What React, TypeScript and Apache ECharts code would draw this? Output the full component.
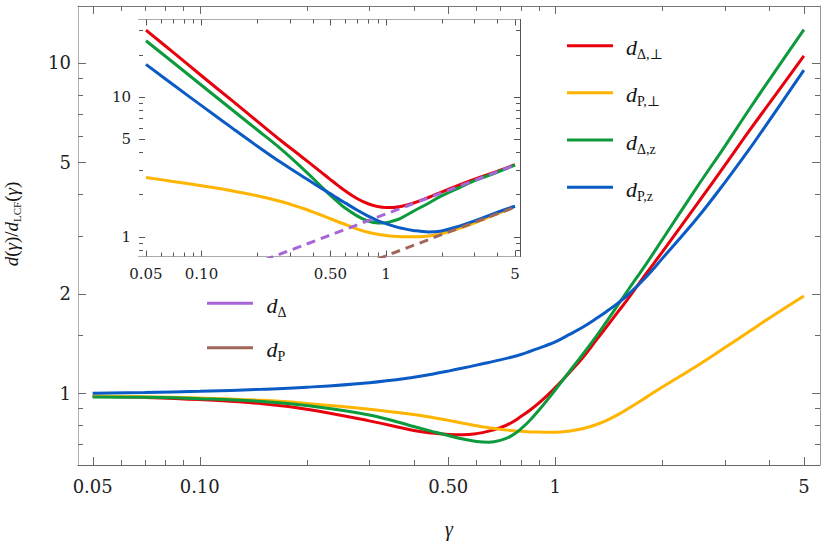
import React, { useEffect, useRef } from "react";
import * as echarts from "echarts";

// ---------- main plot data ----------
const xMain = [0.05, 0.07, 0.1, 0.15, 0.2, 0.3, 0.4, 0.45, 0.5, 0.55, 0.6, 0.65, 0.7, 0.75, 0.8, 0.85, 0.9, 0.95, 1.0, 1.1, 1.2, 1.3, 1.4, 1.5, 1.6, 1.8, 2.0, 2.5, 3.0, 3.5, 4.0, 5.0];
const dDeltaPerpMain = [0.98, 0.972, 0.957, 0.93, 0.895, 0.825, 0.772, 0.758, 0.751, 0.749, 0.755, 0.768, 0.787, 0.813, 0.85, 0.89, 0.935, 0.985, 1.04, 1.16, 1.29, 1.443, 1.6, 1.763, 1.93, 2.3, 2.68, 3.73, 4.9, 6.2, 7.55, 10.5];
const dPPerpMain = [0.98, 0.976, 0.967, 0.952, 0.932, 0.895, 0.862, 0.845, 0.828, 0.812, 0.798, 0.787, 0.778, 0.772, 0.767, 0.764, 0.763, 0.762, 0.762, 0.769, 0.782, 0.803, 0.83, 0.862, 0.898, 0.972, 1.045, 1.21, 1.375, 1.535, 1.69, 1.97];
const dDeltaZMain = [0.975, 0.972, 0.963, 0.945, 0.918, 0.86, 0.793, 0.767, 0.745, 0.727, 0.715, 0.711, 0.72, 0.742, 0.78, 0.83, 0.89, 0.955, 1.025, 1.17, 1.32, 1.482, 1.66, 1.851, 2.05, 2.46, 2.92, 4.2, 5.6, 7.2, 8.9, 12.6];
const dPZMain = [1.0, 1.005, 1.014, 1.028, 1.043, 1.077, 1.118, 1.142, 1.167, 1.192, 1.217, 1.24, 1.262, 1.285, 1.31, 1.34, 1.37, 1.4, 1.43, 1.51, 1.59, 1.68, 1.775, 1.875, 1.985, 2.25, 2.56, 3.38, 4.35, 5.45, 6.7, 9.5];

// ---------- inset data ----------
const xInset = [0.05, 0.07, 0.1, 0.15, 0.2, 0.27, 0.35, 0.4, 0.45, 0.5, 0.55, 0.6, 0.7, 0.8, 0.9, 1.0, 1.1, 1.2, 1.4, 1.7, 2.0, 2.5, 3.0, 4.0, 5.0];
const dDeltaPerpInset = [29.9, 20.8, 14.1, 9.13, 6.69, 4.84, 3.705, 3.225, 2.85, 2.551, 2.313, 2.124, 1.863, 1.715, 1.64, 1.612, 1.615, 1.64, 1.73, 1.9, 2.08, 2.34, 2.56, 2.92, 3.26];
const dPPerpInset = [2.64, 2.477, 2.306, 2.109, 1.957, 1.778, 1.598, 1.501, 1.415, 1.34, 1.275, 1.221, 1.13, 1.072, 1.038, 1.018, 1.005, 0.998, 0.995, 1.01, 1.046, 1.144, 1.249, 1.45, 1.64];
const dDeltaZInset = [25.1, 17.6, 12.07, 7.86, 5.8, 4.22, 3.1, 2.62, 2.25, 1.97, 1.76, 1.6, 1.4, 1.29, 1.25, 1.255, 1.295, 1.35, 1.51, 1.73, 1.95, 2.24, 2.5, 2.88, 3.24];
const dPZInset = [17.0, 12.2, 8.62, 5.83, 4.44, 3.375, 2.71, 2.42, 2.2, 2.02, 1.866, 1.74, 1.54, 1.4, 1.3, 1.235, 1.187, 1.151, 1.106, 1.078, 1.096, 1.187, 1.289, 1.488, 1.645];
const dDeltaX = [0.22, 1, 5];
const dDeltaY = [0.68, 1.45, 3.24];
const dPX = [0.9, 2, 5];
const dPY = [0.69, 1.03, 1.62];

// ---------- ticks ----------
const mainXMajor = [0.05, 0.1, 0.5, 1, 5];
const mainXLabels = ["0.05", "0.10", "0.50", "1", "5"];
const mainXMinor = [0.06, 0.07, 0.08, 0.09, 0.2, 0.3, 0.4, 0.6, 0.7, 0.8, 0.9, 2, 3, 4];
const mainYMajor = [1, 2, 5, 10];
const mainYLabels = ["1", "2", "5", "10"];
const mainYMinor = [0.7, 0.8, 0.9, 1.5, 3, 4, 6, 7, 8, 9];
const insetXMajor = [0.05, 0.1, 0.5, 1, 5];
const insetXLabels = ["0.05", "0.10", "0.50", "1", "5"];
const insetXMinor = [0.06, 0.07, 0.08, 0.09, 0.2, 0.3, 0.4, 0.6, 0.7, 0.8, 0.9, 2, 3, 4];
const insetYMajor = [1, 5, 10];
const insetYLabels = ["1", "5", "10"];
const insetYMinor = [0.8, 0.9, 2, 3, 4, 6, 7, 8, 9, 20, 30];

// ---------- names / legend ----------
const seriesNames = ["d_Δ,⊥", "d_P,⊥", "d_Δ,z", "d_P,z"];
const legendSubs = ["Δ,⊥", "P,⊥", "Δ,z", "P,z"];
const refNames = ["d_Δ", "d_P"];
const refSubs = ["Δ", "P"];
const curveColors = ["#e8000c", "#ffb400", "#0c9a3c", "#0a5bc4"];
const refColors = ["#a865d8", "#a0665a"];

const AX_FONT = "'DejaVu Serif', serif";
const MATH_FONT = "'Liberation Serif', 'DejaVu Serif', serif";

// axis ranges
const MAIN_X = [0.04547, 5.55];
const MAIN_Y = [0.6067, 14.86];
const INSET_X = [0.04584, 5.325];
const INSET_Y = [0.7196, 35.6];

function makeAxes(
  dim: "x" | "y",
  gridIndex: number,
  range: number[],
  major: number[],
  labels: string[],
  o: { line1: string; line2: string; fs: number; margin: number }
) {
  const p1 = dim === "x" ? "bottom" : "left";
  const p2 = dim === "x" ? "top" : "right";
  const fmt = (v: number) => {
    const i = major.findIndex((m) => Math.abs(m - v) <= m * 1e-6);
    return i >= 0 ? labels[i] : "";
  };
  const base: any = {
    type: "log",
    logBase: 10,
    gridIndex,
    min: range[0],
    max: range[1],
    splitLine: { show: false },
    minorTick: { show: false },
    minorSplitLine: { show: false },
    axisTick: { show: false },
    silent: true,
  };
  return [
    {
      ...base,
      position: p1,
      axisLine: { show: true, onZero: false, lineStyle: { color: o.line1, width: 1 } },
      axisLabel: {
        show: true,
        customValues: major,
        formatter: fmt,
        fontFamily: AX_FONT,
        fontSize: o.fs,
        color: "#222",
        margin: o.margin,
      },
    },
    { ...base, position: p2, axisLine: { show: true, onZero: false, lineStyle: { color: o.line2, width: 1 } }, axisLabel: { show: false } },
  ];
}

// Frame ticks (inward, on all four sides) placed through the axes' scales
function tickSeries(
  axisIndex: number,
  xr: number[],
  yr: number[],
  xMajor: number[],
  xMinor: number[],
  yMajor: number[],
  yMinor: number[],
  lenMajor: number,
  lenMinor: number,
  color: string
) {
  const data = [
    ...xMajor.map((v) => [v, yr[0], 0]),
    ...xMinor.map((v) => [v, yr[0], 1]),
    ...yMajor.map((v) => [xr[0], v, 2]),
    ...yMinor.map((v) => [xr[0], v, 3]),
  ];
  return {
    type: "custom",
    xAxisIndex: axisIndex,
    yAxisIndex: axisIndex,
    silent: true,
    clip: false,
    z: 8,
    encode: { x: 0, y: 1 },
    data,
    renderItem: (_params: any, api: any) => {
      const kind = api.value(2);
      const style = { stroke: color, lineWidth: 1, fill: "none" };
      const len = kind === 0 || kind === 2 ? lenMajor : lenMinor;
      if (kind < 2) {
        const v = api.value(0);
        const b = api.coord([v, yr[0]]);
        const t = api.coord([v, yr[1]]);
        const x = Math.round(b[0]) + 0.5;
        return {
          type: "group",
          children: [
            { type: "line", shape: { x1: x, y1: b[1], x2: x, y2: b[1] - len }, style },
            { type: "line", shape: { x1: x, y1: t[1], x2: x, y2: t[1] + len }, style },
          ],
        };
      }
      const v = api.value(1);
      const l = api.coord([xr[0], v]);
      const r = api.coord([xr[1], v]);
      const y = Math.round(l[1]) + 0.5;
      return {
        type: "group",
        children: [
          { type: "line", shape: { x1: l[0], y1: y, x2: l[0] + len, y2: y }, style },
          { type: "line", shape: { x1: r[0], y1: y, x2: r[0] - len, y2: y }, style },
        ],
      };
    },
  };
}

function buildOption(): any {
  const mainCurves = [dDeltaPerpMain, dPPerpMain, dDeltaZMain, dPZMain];
  const insetCurves = [dDeltaPerpInset, dPPerpInset, dDeltaZInset, dPZInset];

  const series: any[] = [];
  mainCurves.forEach((ys, k) => {
    series.push({
      type: "line",
      name: seriesNames[k],
      xAxisIndex: 0,
      yAxisIndex: 0,
      data: xMain.map((x, i) => [x, ys[i]]),
      showSymbol: false,
      symbol: "none",
      smooth: 0.4,
      lineStyle: { color: curveColors[k], width: 3 },
      itemStyle: { color: curveColors[k] },
      z: 3,
      silent: true,
    });
  });
  insetCurves.forEach((ys, k) => {
    series.push({
      type: "line",
      name: seriesNames[k] + " (inset)",
      xAxisIndex: 2,
      yAxisIndex: 2,
      data: xInset.map((x, i) => [x, ys[i]]),
      showSymbol: false,
      symbol: "none",
      smooth: 0.4,
      lineStyle: { color: curveColors[k], width: 3 },
      itemStyle: { color: curveColors[k] },
      z: 5,
      silent: true,
    });
  });
  [
    [dDeltaX, dDeltaY],
    [dPX, dPY],
  ].forEach(([xs, ys], k) => {
    series.push({
      type: "line",
      name: refNames[k],
      xAxisIndex: 2,
      yAxisIndex: 2,
      data: xs.map((x, i) => [x, ys[i]]),
      showSymbol: false,
      symbol: "none",
      clip: true,
      lineStyle: { color: refColors[k], width: 3, type: [9, 6] },
      itemStyle: { color: refColors[k] },
      z: 6,
      silent: true,
    });
  });

  series.push(tickSeries(0, MAIN_X, MAIN_Y, mainXMajor, mainXMinor, mainYMajor, mainYMinor, 8, 5, "#6a6a6a"));
  series.push(tickSeries(2, INSET_X, INSET_Y, insetXMajor, insetXMinor, insetYMajor, insetYMinor, 6, 4, "#555"));

  const xAxis = [
    ...makeAxes("x", 0, MAIN_X, mainXMajor, mainXLabels, { line1: "#666", line2: "#777", fs: 18, margin: 12 }),
    ...makeAxes("x", 1, INSET_X, insetXMajor, insetXLabels, { line1: "#555", line2: "#555", fs: 15, margin: 10 }),
  ];
  const yAxis = [
    ...makeAxes("y", 0, MAIN_Y, mainYMajor, mainYLabels, { line1: "#b0b0b0", line2: "#999", fs: 18, margin: 7 }),
    ...makeAxes("y", 1, INSET_Y, insetYMajor, insetYLabels, { line1: "#555", line2: "#555", fs: 15, margin: 8 }),
  ];

  const textFill = "#151515";
  const legRich = {
    d: { fontFamily: MATH_FONT, fontStyle: "italic", fontSize: 22, lineHeight: 28, fill: textFill, verticalAlign: "middle" },
    s: { fontFamily: MATH_FONT, fontSize: 14, fill: textFill, verticalAlign: "bottom" },
  };

  const graphic: any[] = [];
  const legY = [45.7, 92.7, 140, 187.3];
  legendSubs.forEach((sub, k) => {
    graphic.push({
      type: "line",
      z: 20,
      shape: { x1: 567, y1: legY[k], x2: 613, y2: legY[k] },
      style: { stroke: curveColors[k], lineWidth: 3 },
    });
    graphic.push({
      type: "text",
      z: 20,
      x: 626,
      y: legY[k] + 2,
      style: { text: `{d|d}{s|${sub}}`, rich: legRich, align: "left", verticalAlign: "middle", fill: textFill },
    });
  });
  const refLegY = [303.3, 347.7];
  refSubs.forEach((sub, k) => {
    graphic.push({
      type: "line",
      z: 20,
      shape: { x1: 207, y1: refLegY[k], x2: 253, y2: refLegY[k] },
      style: { stroke: refColors[k], lineWidth: 3 },
    });
    graphic.push({
      type: "text",
      z: 20,
      x: 266.5,
      y: refLegY[k] + 2,
      style: { text: `{d|d}{s|${sub}}`, rich: legRich, align: "left", verticalAlign: "middle", fill: textFill },
    });
  });

  // axis titles
  graphic.push({
    type: "text",
    z: 20,
    x: 449,
    y: 529,
    style: { text: "γ", font: `italic 20px ${MATH_FONT}`, fill: textFill, align: "center", verticalAlign: "middle" },
  });
  graphic.push({
    type: "text",
    z: 20,
    x: 11.5,
    y: 224,
    rotation: Math.PI / 2,
    style: {
      text: "{i|d}{r|(}{i|γ}{r|)/}{i|d}{s|LCF}{r|(}{i|γ}{r|)}",
      align: "center",
      verticalAlign: "middle",
      fill: textFill,
      rich: {
        i: { fontFamily: MATH_FONT, fontStyle: "italic", fontSize: 19, lineHeight: 22, fill: textFill, verticalAlign: "middle" },
        r: { fontFamily: MATH_FONT, fontSize: 19, lineHeight: 22, fill: textFill, verticalAlign: "middle" },
        s: { fontFamily: MATH_FONT, fontSize: 11, fill: textFill, verticalAlign: "bottom" },
      },
    },
  });

  return {
    animation: false,
    backgroundColor: "#ffffff",
    textStyle: { fontFamily: AX_FONT },
    grid: [
      { left: 78, top: 6, width: 742, height: 459, containLabel: false, outerBoundsMode: "none", show: false },
      {
        left: 139,
        top: 19.5,
        width: 381,
        height: 237,
        containLabel: false,
        outerBoundsMode: "none",
        show: true,
        backgroundColor: "#ffffff",
        borderWidth: 0,
        z: 4,
      },
    ],
    xAxis,
    yAxis,
    series,
    graphic,
  };
}

export default function App() {
  const ref = useRef<HTMLDivElement>(null);
  useEffect(() => {
    if (!ref.current) return;
    const chart = echarts.init(ref.current, undefined, { renderer: "svg", width: 830, height: 549 });
    chart.setOption(buildOption());
    return () => chart.dispose();
  }, []);
  return (
    <div
      ref={ref}
      style={{ position: "absolute", left: 0, top: 0, width: 830, height: 549, background: "#fff" }}
    />
  );
}
